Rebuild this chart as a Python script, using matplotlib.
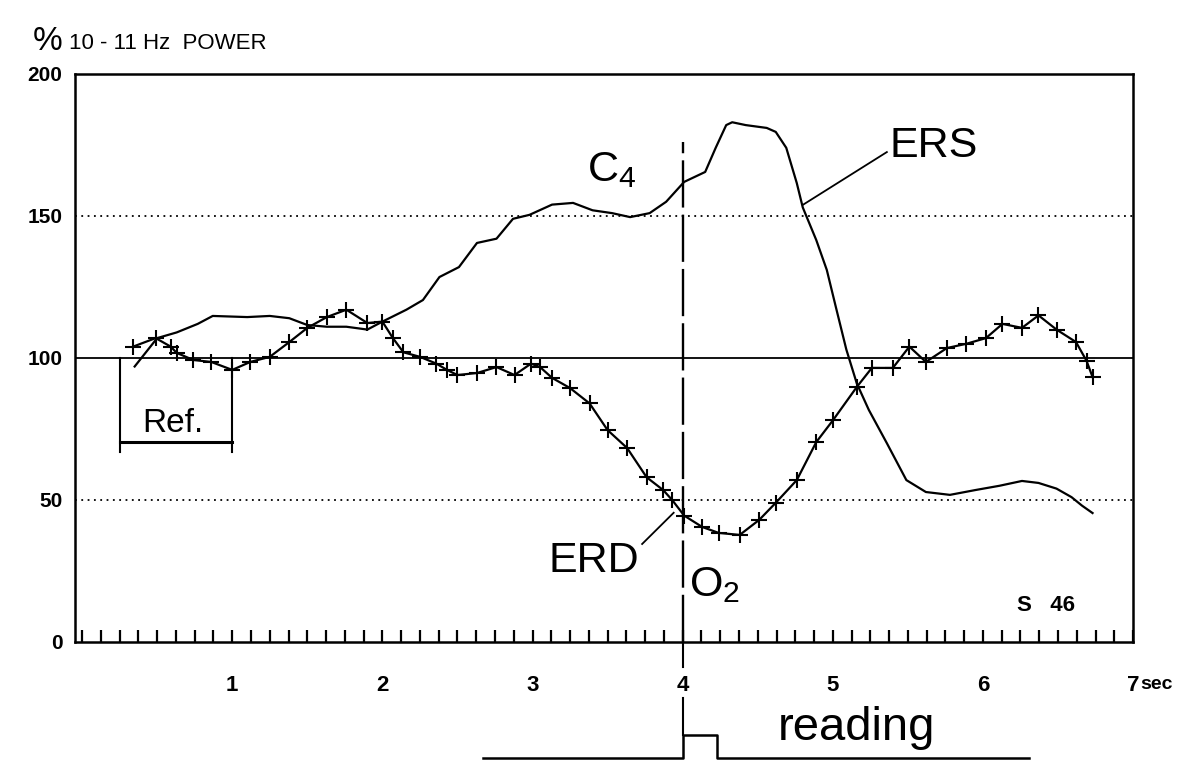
import numpy as np
import matplotlib.pyplot as plt

plt.rcParams['font.family'] = ['Liberation Sans', 'DejaVu Sans']

# band power (% of reference) over time, C4 and O2
c4_t = [0.35, 0.50, 0.63, 0.77, 0.87, 1.10, 1.25, 1.38, 1.50, 1.63, 1.76, 1.90,
        2.00, 2.16, 2.27, 2.38, 2.51, 2.63, 2.76, 2.87, 2.98, 3.13, 3.27, 3.40,
        3.53, 3.65, 3.78, 3.89, 4.01, 4.15, 4.22, 4.29, 4.33, 4.42, 4.56, 4.62,
        4.69, 4.76, 4.80, 4.89, 4.96, 5.02, 5.09, 5.16, 5.24, 5.36, 5.49, 5.62,
        5.78, 5.95, 6.11, 6.26, 6.37, 6.49, 6.59, 6.66, 6.73]
c4_pct = [97, 107, 109, 112, 114.8, 114.4, 114.8, 114, 111.6, 111, 111, 110,
          112.8, 117, 120.4, 128.5, 132, 140.5, 142, 149, 150.4, 154, 154.6, 152,
          151, 149.6, 151, 155, 162, 165.5, 174, 182, 183, 182, 181, 179.6,
          174, 161.6, 153, 141.5, 131, 118, 103, 91, 81.7, 70, 57, 52.8,
          51.8, 53.5, 55, 56.7, 56, 54, 51, 48, 45.4]

o2_t = [0.34, 0.49, 0.59, 0.63, 0.74, 0.86, 1.00, 1.12, 1.25, 1.38, 1.50, 1.63,
        1.76, 1.90, 2.00, 2.07, 2.14, 2.25, 2.36, 2.43, 2.50, 2.63, 2.76, 2.88,
        2.99, 3.05, 3.13, 3.25, 3.38, 3.50, 3.63, 3.76, 3.87, 3.93, 4.01, 4.13,
        4.24, 4.38, 4.51, 4.62, 4.76, 4.89, 5.00, 5.16, 5.26, 5.40, 5.51, 5.62,
        5.76, 5.89, 6.02, 6.13, 6.26, 6.37, 6.49, 6.62, 6.69, 6.73]
o2_pct = [104, 107, 104, 101.8, 99.3, 98.6, 95.8, 98.6, 100.4, 105.6, 110.6, 114.4,
          117, 112.3, 112.8, 107, 102, 100.4, 98, 95.8, 94, 94.7, 96.8, 94,
          98, 96.8, 93, 89.4, 84, 74.6, 68.3, 58, 53.5, 50, 44.5, 40.5,
          38.4, 37.7, 43, 49, 57, 70.4, 78, 89.8, 96.5, 96.5, 104, 98.6,
          103.5, 105, 107, 112, 110.6, 115, 110, 105.6, 99, 93.3]

# reference interval and stimulus trace
ref_start, ref_end = 0.25, 1.0
stim_t = [2.67, 4.0, 4.0, 4.23, 4.23, 6.31]
stim_level = [0, 0, 1, 1, 0, 0]

y_ticks = [0, 50, 100, 150, 200]
x_ticks = [1, 2, 3, 4, 5, 6, 7]

fig = plt.figure(figsize=(11.97, 7.61), dpi=100)
ax = fig.add_axes([0.0627, 0.1564, 0.8839, 0.7464])
ax.set_xlim(-0.047, 7.0)
ax.set_ylim(0, 200)

for s in ax.spines.values():
    s.set_linewidth(1.8)

# reference lines
ax.axhline(150, color='k', lw=1.3, ls=(0, (1, 2.5)))
ax.axhline(50, color='k', lw=1.3, ls=(0, (1, 2.5)))
ax.axhline(100, color='k', lw=1.3)

ax.plot(c4_t, c4_pct, color='k', lw=1.6)
ax.plot(o2_t, o2_pct, color='k', lw=1.6, marker='+', ms=12, mew=1.5)

# stimulus onset
ax.plot([4, 4], [0, 176], color='k', lw=1.7, ls=(0, (20, 3)))

# reference bracket
ax.plot([ref_start, ref_start], [100, 67], color='k', lw=1.5)
ax.plot([ref_end, ref_end], [100, 67], color='k', lw=1.5)
ax.plot([ref_start, ref_end], [70.5, 70.5], color='k', lw=2.2)
ax.text((ref_start + ref_end) / 2 - 0.02, 77, 'Ref.', fontsize=24,
        ha='center', va='center')

# annotations
ax.plot([4.80, 5.36], [153.9, 172.5], color='k', lw=1.3)
ax.text(5.38, 174.5, 'ERS', fontsize=31, ha='left', va='center')
ax.plot([3.73, 3.94], [34.5, 45.5], color='k', lw=1.3)
ax.text(3.41, 28.5, 'ERD', fontsize=31, ha='center', va='center')
ax.text(3.36, 166, r'C$_\mathregular{4}$', fontsize=31, ha='left', va='center')
ax.text(4.04, 20, r'O$_\mathregular{2}$', fontsize=31, ha='left', va='center')
ax.text(6.23, 13, 'S   46', fontsize=16, fontweight='bold', ha='left', va='center')

# axis ticks
ax.set_yticks(y_ticks)
ax.set_yticklabels([str(v) for v in y_ticks], fontsize=15, fontweight='bold')
ax.tick_params(axis='y', length=0, pad=9)
ax.set_xticks(x_ticks)
ax.set_xticklabels([str(v) for v in x_ticks], fontsize=16, fontweight='bold')
ax.set_xticks(np.arange(0, 7.01, 0.125), minor=True)
ax.tick_params(axis='x', which='both', direction='in', length=9, width=1.6,
               pad=24)
ax.text(7.05, -0.075, 'sec', transform=ax.get_xaxis_transform(),
        fontsize=14, fontweight='bold', ha='left', va='center')

# stimulus strip below the axis
sx = fig.add_axes([0.0627, 0.0, 0.8839, 0.1564], sharex=ax)
sx.set_ylim(0, 1)
sx.axis('off')
stim_y = [0.025 + 0.193 * v for v in stim_level]
sx.plot(stim_t, stim_y, color='k', lw=1.8, clip_on=False)
sx.plot([4, 4], [1.0, 0.79], color='k', lw=1.5)
sx.plot([4, 4], [0.53, 0.218], color='k', lw=1.5)
sx.text(5.16, 0.28, 'reading', fontsize=34, ha='center', va='center')

fig.text(0.027, 0.945, '%', fontsize=24, ha='left', va='center')
fig.text(0.058, 0.943, '10 - 11 Hz  POWER', fontsize=16, ha='left', va='center')

fig.savefig('out.png', dpi=100)
